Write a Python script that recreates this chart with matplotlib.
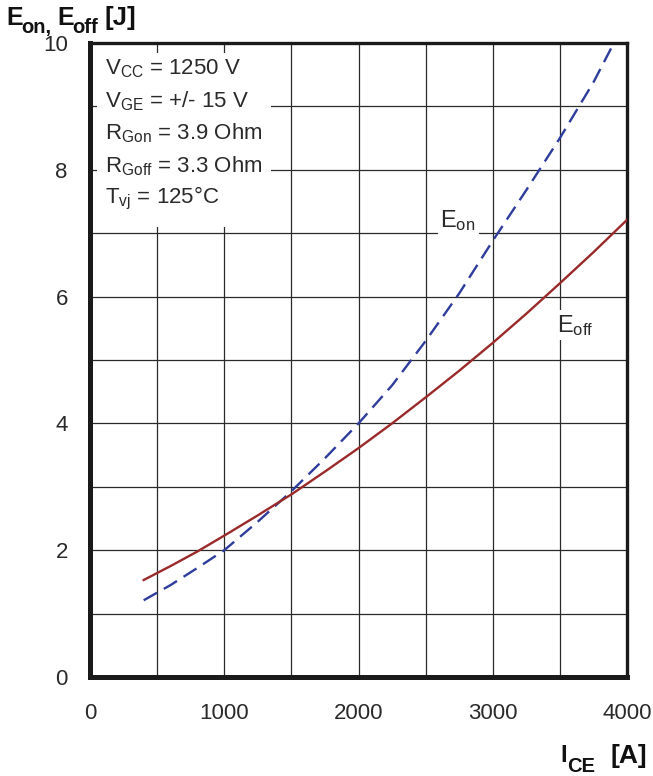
import matplotlib
matplotlib.use("Agg")
import matplotlib.pyplot as plt
from matplotlib.patches import Rectangle

plt.rcParams['font.family'] = ['Liberation Sans', 'DejaVu Sans']
plt.rcParams['mathtext.fontset'] = 'custom'
plt.rcParams['mathtext.rm'] = 'Liberation Sans'
plt.rcParams['mathtext.bf'] = 'Liberation Sans:bold'
plt.rcParams['mathtext.it'] = 'Liberation Sans:italic'

# Data
I_on = [400, 600, 800, 1000, 1250, 1500, 1750, 2000, 2250, 2500, 2750, 3000, 3250, 3500, 3750, 3890]
E_on = [1.21, 1.45, 1.72, 2.0, 2.45, 2.93, 3.45, 4.0, 4.6, 5.3, 6.05, 6.88, 7.68, 8.5, 9.38, 9.95]
I_off = [400, 600, 800, 1000, 1250, 1500, 1750, 2000, 2250, 2500, 2750, 3000, 3250, 3500, 3750, 4000]
E_off = [1.53, 1.75, 1.98, 2.23, 2.55, 2.88, 3.24, 3.61, 4.0, 4.41, 4.83, 5.27, 5.73, 6.21, 6.70, 7.21]

x_ticks = [0, 1000, 2000, 3000, 4000]
y_ticks = [0, 2, 4, 6, 8, 10]
x_grid = [500, 1000, 1500, 2000, 2500, 3000, 3500]
y_grid = [1, 2, 3, 4, 5, 6, 7, 8, 9]

cond_lines = [r'$\mathrm{V_{CC}}$ = 1250 V',
              r'$\mathrm{V_{GE}}$ = +/- 15 V',
              r'$\mathrm{R_{Gon}}$ = 3.9 Ohm',
              r'$\mathrm{R_{Goff}}$ = 3.3 Ohm',
              r'$\mathrm{T_{vj}}$ = 125°C']

TXT = '#2a2a2a'
DARK = '#111111'

fig = plt.figure(figsize=(6.53, 7.76), dpi=100)
ax = fig.add_axes([90/653, 1-677/776, (627-90)/653, (677-43)/776])
ax.set_xlim(0, 4000)
ax.set_ylim(0, 10)

for xg in x_grid:
    ax.axvline(xg, color='#2a2a2a', lw=0.9, zorder=1)
for yg in y_grid:
    ax.axhline(yg, color='#2a2a2a', lw=0.9, zorder=1)

ax.set_xticks(x_ticks)
ax.set_yticks(y_ticks)
ax.tick_params(length=0, labelsize=16, colors=TXT)
ax.tick_params(axis='x', pad=19)
ax.tick_params(axis='y', pad=16)

for side in ['left', 'bottom']:
    ax.spines[side].set_linewidth(3.6)
for side in ['top', 'right']:
    ax.spines[side].set_linewidth(2.4)
for s in ax.spines.values():
    s.set_color('#1a1a1a')

# white box behind conditions
ax.add_patch(Rectangle((52, 7.1), 1296, 2.74, facecolor='white', edgecolor='none', zorder=2))
ys = [9.6, 9.08, 8.57, 8.05, 7.55]
for t, yy in zip(cond_lines, ys):
    ax.text(110, yy, t, fontsize=16, color=TXT, va='center', ha='left', zorder=3)

l_on, = ax.plot(I_on, E_on, color='#2e3c9c', lw=1.7, zorder=5)
l_on.set_dashes([6.5, 3.3])
ax.plot(I_off, E_off, color='#9a2a2a', lw=1.7, zorder=5)

ax.text(2610, 7.2, r'$\mathrm{E_{on}}$', fontsize=17, color=TXT, va='center', ha='left',
        zorder=4, bbox=dict(facecolor='white', edgecolor='none', pad=2))
ax.text(3480, 5.55, r'$\mathrm{E_{off}}$', fontsize=17, color=TXT, va='center', ha='left',
        zorder=4, bbox=dict(facecolor='white', edgecolor='none', pad=2))

def ftext(x, y, s, size):
    fig.text(x/653, 1-y/776, s, fontsize=size, fontweight='bold', color=DARK,
             ha='left', va='baseline')

# y-axis title  E_on, E_off [J]
ftext(6, 25, 'E', 18)
ftext(21, 33, 'on,', 14.5)
ftext(57, 25, 'E', 18)
ftext(72, 33, 'off', 14.5)
ftext(105, 25, '[J]', 18.5)
# x-axis title  I_CE [A]
ftext(560, 762, 'I', 17)
ftext(567, 772, 'CE', 14.5)
ftext(611, 763, '[A]', 19)

fig.savefig('out.png', dpi=100, facecolor='white')
